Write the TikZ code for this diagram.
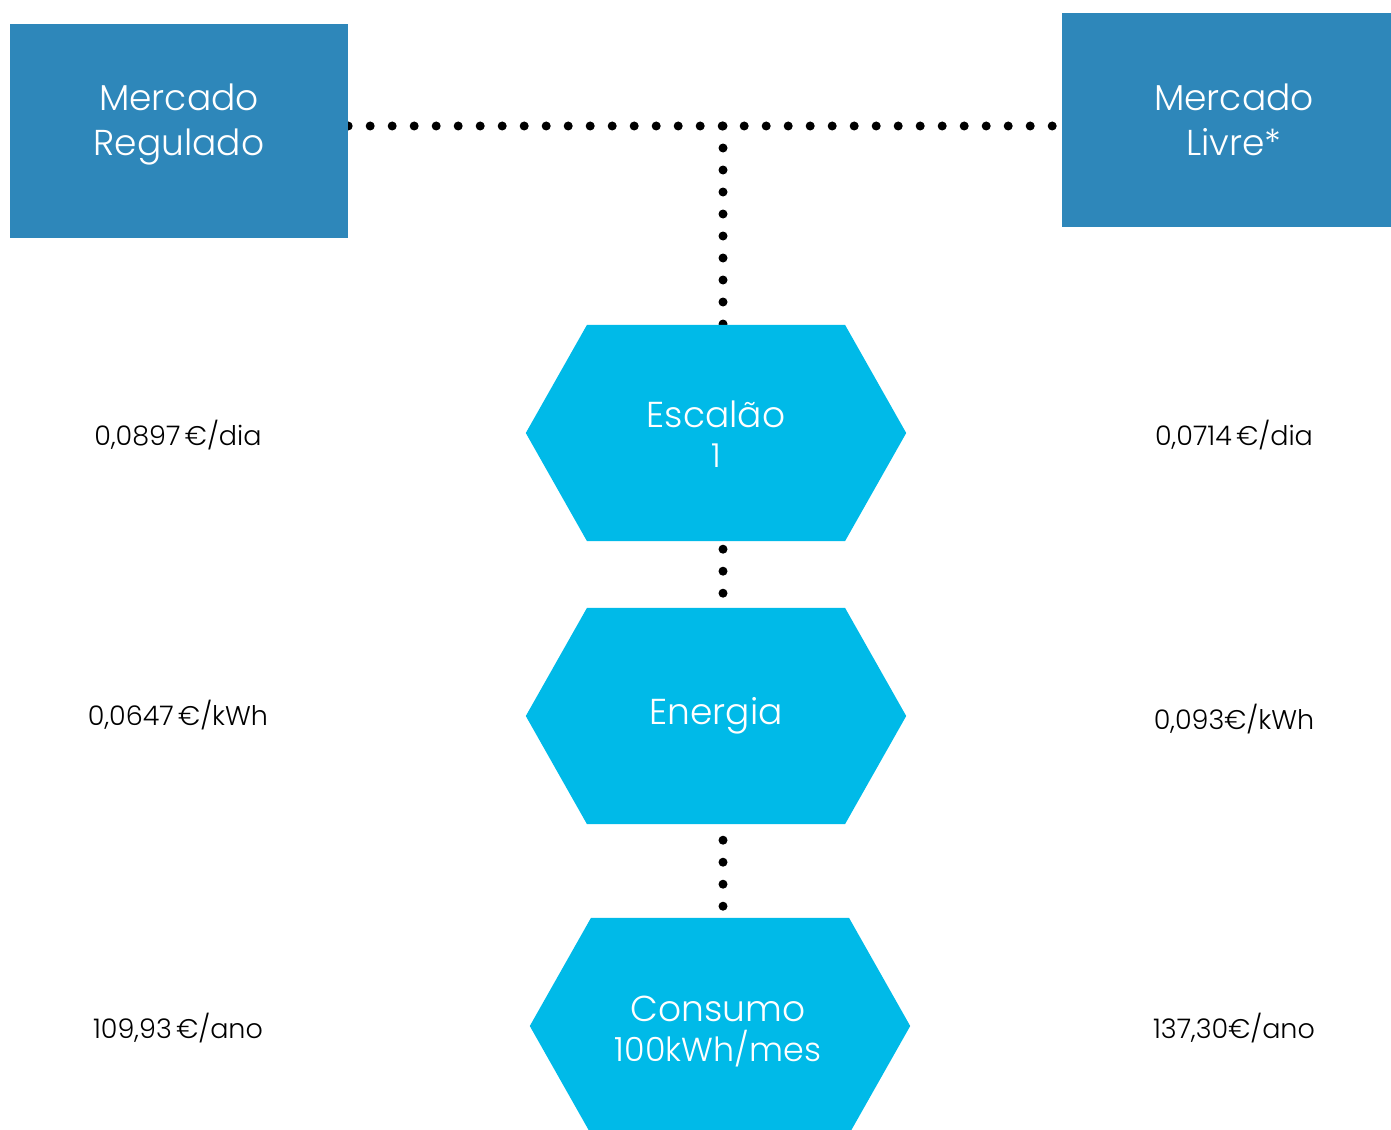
\documentclass[tikz,border=0pt]{standalone}
\usepackage{fontspec}
\setmainfont{Poppins}[UprightFont={* Light}]
\usetikzlibrary{calc}
\definecolor{boxblue}{HTML}{2E87BA}
\definecolor{hexblue}{HTML}{00BAE8}
\begin{document}
\begin{tikzpicture}[x=1pt,y=-1pt,
  mbox/.style={fill=boxblue, draw=none, inner sep=0pt, minimum height=214pt},
  boxtext/.style={text=white, align=center, font=\fontsize{36}{45}\selectfont, inner sep=0pt},
  hexframe/.style={inner sep=0pt, minimum width=380pt, minimum height=216pt},
  hextext/.style={text=white, align=center, font=\fontsize{36}{40}\selectfont, inner sep=0pt},
  price/.style={font=\fontsize{27}{30}\selectfont, text=black, inner sep=0pt},
  dotline/.style={line width=9pt, line cap=round, dash pattern=on 0pt off 22pt}]
\useasboundingbox (0,0) rectangle (1391,1129);

% box frames (anchors) and hexagon frames
\node[mbox, fill=none, minimum width=338pt] (reg) at (179,131) {};
\node[mbox, fill=none, minimum width=329pt] (liv) at (1226.5,120) {};
\node[hexframe] (h1) at (716,433) {};
\node[hexframe] (h2) at (716,716) {};
\node[hexframe] (h3) at (720,1026) {};

\coordinate (jn) at (723,126);

% connectors
\draw[dotline] (reg.east |- jn) -- (liv.west |- jn);
\draw[dotline] (jn) -- (jn |- h1.north);
\draw[dotline, shorten <=8pt] (jn |- h1.south) -- (jn |- h2.north);
\draw[dotline, shorten <=16pt] (jn |- h2.south) -- (jn |- h3.north);

% box fills
\fill[boxblue] (reg.north west) rectangle (reg.south east);
\fill[boxblue] (liv.north west) rectangle (liv.south east);

% hexagon fills
\foreach \h in {h1,h2,h3}
  \fill[hexblue] (\h.west) -- ($(\h.north)+(-129,0)$) -- ($(\h.north)+(129,0)$)
    -- (\h.east) -- ($(\h.south)+(129,0)$) -- ($(\h.south)+(-129,0)$) -- cycle;

% texts
\node[boxtext] (regt) at ($(reg.center)+(0,-6)$) {Mercado\\Regulado};
\node[boxtext] (livt) at ($(liv.center)+(7.5,0)$) {Mercado\\Livre*};

\node[hextext] (h1t) at ($(h1.center)+(0,1)$) {Escalão\\{\fontsize{33}{40}\selectfont 1}};
\node[hextext] (h2t) at ($(h2.center)+(0,0)$) {Energia};
\node[hextext] (h3t) at ($(h3.center)+(-2,6)$) {Consumo\\{\fontsize{33.3}{40}\selectfont 100kWh/mes}};

\node[price] (l1) at (178,435) {0,0897\,€/dia};
\node[price] (l2) at (178,715) {0,0647\,€/kWh};
\node[price] (l3) at (178,1028) {109,93\,€/ano};
\node[price] (r1) at (1234,435) {0,0714\,€/dia};
\node[price] (r2) at (1234,719) {0,093€/kWh};
\node[price] (r3) at (1234,1028) {137,30€/ano};
\end{tikzpicture}
\end{document}
